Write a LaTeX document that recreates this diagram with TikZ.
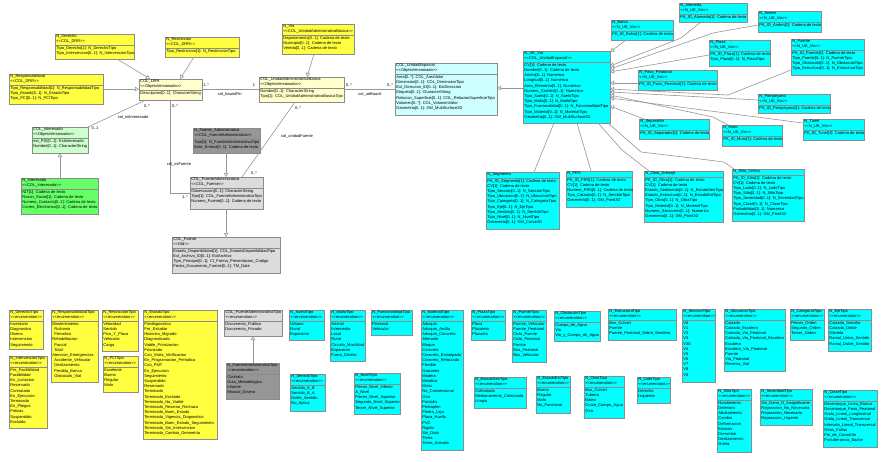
\documentclass[tikz,border=0pt]{standalone}
\usepackage{fontspec}
\setmainfont{Liberation Sans}
\usetikzlibrary{arrows.meta,calc}
\definecolor{cY}{RGB}{255,255,64}
\definecolor{cLY}{RGB}{255,255,204}
\definecolor{cC}{RGB}{0,255,255}
\definecolor{cLC}{RGB}{204,255,255}
\definecolor{cG}{RGB}{102,255,102}
\definecolor{cLG}{RGB}{204,255,204}
\definecolor{cDG}{RGB}{150,150,150}
\definecolor{cLGr}{RGB}{220,220,220}
\definecolor{cB}{RGB}{140,140,140}
\definecolor{cL}{RGB}{150,150,150}
\newcommand\st[1]{<\kern0pt<#1>\kern0pt>}
\tikzset{
  ubox/.style={draw=cB, line width=0.6pt, anchor=north west, inner sep=0pt, outer sep=0pt},
  utext/.style={anchor=north west, inner sep=0pt, align=left, font=\fontsize{4}{5.2}\selectfont},
  usep/.style={draw=cB, line width=0.4pt},
  conn/.style={draw=cL, line width=0.6pt},
  gen/.style={conn, -{Triangle[open,length=4pt,width=4.5pt]}},
  lbl/.style={inner sep=0pt, font=\fontsize{4}{5}\selectfont},
}
\newcommand\ubox[9]{%
  \node[ubox,fill=#2,minimum width=#5pt,minimum height=#6pt] (#1) at (#3,#4) {};
  \node[utext] (#1-h) at ([xshift=1.2pt,yshift=-0.6pt]#1.north west) {#8};
  \draw[usep] ([yshift={-#7*5.2pt-1pt}]#1.north west) -- ([yshift={-#7*5.2pt-1pt}]#1.north east);
  \node[utext] (#1-b) at ([xshift=1.2pt,yshift={-#7*5.2pt-1.8pt}]#1.north west) {#9};
}
\begin{document}
\catcode`\_=12
\begin{tikzpicture}[x=1pt,y=-1pt]
\fill[white] (0,0) rectangle (891,461);
\useasboundingbox (0,0) rectangle (891,461);

% ---- upper model ----
\ubox{NDerecho}{cY}{55}{34}{79}{25}{2}{N_Derecho\\\st{COL_DRR}}{Tipo_Derecho[1]: N_DerechoTipo\\Tipo_Intervencion[0..1]: N_IntervencionTipo}
\ubox{NRestriccion}{cY}{165}{37}{74}{20}{2}{N_Restriccion\\\st{COL_DRR}}{Tipo_Restriccion[1]: N_RestriccionTipo}
\ubox{NResponsabilidad}{cY}{9}{74}{94}{30}{2}{N_Responsabilidad\\\st{COL_DRR}}{Tipo_Responsabilidad[1]: N_ResponsabilidadTipo\\Tipo_Estado[0..1]: N_EstadoTipo\\Tipo_PCI[0..1]: N_PCITipo}
\ubox{COLDRR}{cLY}{139}{79}{63}{21}{2}{COL_DRR\\\st{ObjetoVersionado}}{Descripcion[0..1]: CharacterString}
\ubox{COLInteresado}{cLG}{32}{127}{56}{26}{2}{COL_Interesado\\\st{ObjetoVersionado}}{ext_PID[0..1]: ExtInteresado\\Nombre[0..1]: CharacterString}
\ubox{NInteresado}{cG}{21}{178}{77}{36}{2}{N_Interesado\\\st{COL_Interesado}}{NIT[1]: Cadena de texto\\Razon_Social[1]: Cadena de texto\\Numero_Contacto[0..1]: Cadena de texto\\Correo_Electronico[0..1]: Cadena de texto}
\ubox{NVia}{cY}{282}{24}{72}{30}{2}{N_Via\\\st{COL_UnidadAdministrativaBasica}}{Departamento[0..1]: Cadena de texto\\Municipio[0..1]: Cadena de texto\\Vereda[0..1]: Cadena de texto}
\ubox{COLUAB}{cLY}{259}{77}{85}{25}{2}{COL_UnidadAdministrativaBasica\\\st{ObjetoVersionado}}{Nombre[0..1]: CharacterString\\Tipo[1]: COL_UnidadAdministrativaBasicaTipo}
\ubox{NFuenteAdm}{cDG}{193}{128}{67}{25}{2}{N_Fuente_Administrativa\\\st{COL_FuenteAdministrativa}}{Tipo[1]: N_FuenteAdministrativaTipo\\Ente_Emisor[0..1]: Cadena de texto}
\ubox{COLFA}{cLGr}{190}{177}{73}{32}{2}{COL_FuenteAdministrativa\\\st{COL_Fuente}}{Observacion[0..1]: CharacterString\\Tipo[1]: COL_FuenteAdministrativaTipo\\Numero_Fuente[0..1]: Cadena de texto}
\ubox{COLFuente}{cLGr}{172}{237}{108}{36}{2}{COL_Fuente\\\st{Oid}}{Estado_Disponibilidad[1]: COL_EstadoDisponibilidadTipo\\Ext_Archivo_ID[0..1]: ExtArchivo\\Tipo_Principal[0..1]: CI_Forma_Presentacion_Codigo\\Fecha_Documento_Fuente[0..1]: TM_Date}
\ubox{COLUE}{cLC}{395}{63}{102}{52}{2}{COL_UnidadEspacial\\\st{ObjetoVersionado}}{Area[0..*]: COL_AreaValor\\Dimension[0..1]: COL_DimensionTipo\\Ext_Direccion_ID[0..1]: ExtDireccion\\Etiqueta[0..1]: CharacterString\\Relacion_Superficie[0..1]: COL_RelacionSuperficieTipo\\Volumen[0..*]: COL_VolumenValor\\Geometria[0..1]: GM_MultiSurface3D}
\ubox{NUEVia}{cC}{523}{51}{87}{72}{2}{N_UE_Via\\\st{COL_UnidadEspacial}}{CV[1]: Cadena de texto\\Nombre[0..1]: Cadena de texto\\Ancho[0..1]: Numerico\\Longitud[0..1]: Numerico\\Area_Elemento[0..1]: Numerico\\Numero_Carriles[0..1]: Numerico\\Tipo_Suelo[0..1]: N_SueloTipo\\Tipo_Malla[0..1]: N_MallaTipo\\Tipo_Funcionalidad[0..1]: N_FuncionalidadTipo\\Tipo_Material[0..1]: N_MaterialTipo\\Geometria[0..1]: GM_MultiSurface3D}
\ubox{NBahia}{cC}{611}{20}{62}{20}{2}{N_Bahia\\\st{N_UE_Via}}{PK_ID_Bahia[1]: Cadena de texto}
\ubox{NAlameda}{cC}{679}{3}{68}{19}{2}{N_Alameda\\\st{N_UE_Via}}{PK_ID_Alameda[1]: Cadena de texto}
\ubox{NAnden}{cC}{758}{11}{63}{21}{2}{N_Anden\\\st{N_UE_Via}}{PK_ID_Anden[1]: Cadena de texto}
\ubox{NPlaza}{cC}{709}{40}{61}{26}{2}{N_Plaza\\\st{N_UE_Via}}{PK_ID_Plaza[1]: Cadena de texto\\Tipo_Plaza[0..1]: N_PlazaTipo}
\ubox{NPuente}{cC}{791}{39}{73}{36}{2}{N_Puente\\\st{N_UE_Via}}{PK_ID_Puente[1]: Cadena de texto\\Tipo_Puente[0..1]: N_PuenteTipo\\Tipo_Obstaculo[0..1]: N_ObstaculoTipo\\Tipo_Estructura[0..1]: N_EstructuraTipo}
\ubox{NPaso}{cC}{638}{70}{79}{20}{2}{N_Paso_Peatonal\\\st{N_UE_Via}}{PK_ID_Paso_Peatonal[1]: Cadena de texto}
\ubox{NPompeyano}{cC}{758}{94}{72}{19}{2}{N_Pompeyano\\\st{N_UE_Via}}{PK_ID_Pompeyano[1]: Cadena de texto}
\ubox{NSeparador}{cC}{639}{119}{70}{20}{2}{N_Separador\\\st{N_UE_Via}}{PK_ID_Separador[1]: Cadena de texto}
\ubox{NMuro}{cC}{722}{125}{60}{21}{2}{N_Muro\\\st{N_UE_Via}}{PK_ID_Muro[1]: Cadena de texto}
\ubox{NTunel}{cC}{803}{119}{61}{21}{2}{N_Tunel\\\st{N_UE_Via}}{PK_ID_Tunel[1]: Cadena de texto}
\ubox{NSegmento}{cC}{486}{172}{73}{57}{1}{N_Segmento}{PK_ID_Segmento[1]: Cadena de texto\\CV[1]: Cadena de texto\\Tipo_Seccion[0..1]: N_SeccionTipo\\Tipo_Ubicacion[0..1]: N_UbicacionTipo\\Tipo_Categoria[0..1]: N_CategoriaTipo\\Tipo_Eje[0..1]: N_EjeTipo\\Tipo_Sentido[0..1]: N_SentidoTipo\\Tipo_Nivel[0..1]: N_NivelTipo\\Geometria[0..1]: GM_Curve3D}
\ubox{NPRS}{cC}{566}{171}{66}{36}{1}{N_PRS}{PK_ID_PRS[1]: Cadena de texto\\CV[1]: Cadena de texto\\Numero_PRS[0..1]: Cadena de texto\\Tipo_Calzada[0..1]: N_SentidoTipo\\Geometria[0..1]: GM_Point3D}
\ubox{NObra}{cC}{644}{171}{79}{51}{1}{N_Obra_Drenaje}{PK_ID_Obra[1]: Cadena de texto\\CV[1]: Cadena de texto\\Estado_Sedimento[0..1]: N_EstadoSenTipo\\Estado_Estructura[0..1]: N_EstadoEstTipo\\Tipo_Obra[0..1]: N_ObraTipo\\Tipo_Material[0..1]: N_MaterialTipo\\Numero_Secciones[0..1]: Numerico\\Geometria[0..1]: GM_Point3D}
\ubox{NSitio}{cC}{732}{169}{72}{52}{1}{N_Sitio_Critico}{PK_ID_Sitio[1]: Cadena de texto\\CV[1]: Cadena de texto\\Tipo_Lado[0..1]: N_LadoTipo\\Tipo_Sitio[0..1]: N_SitioTipo\\Tipo_Severidad[0..1]: N_SeveridadTipo\\Tipo_Clase[0..1]: N_ClaseTipo\\Probabilidad[0..1]: Numerico\\Geometria[0..1]: GM_Point3D}

% ---- enumerations ----
\ubox{EDerecho}{cY}{9}{310}{34}{39}{2}{N_DerechoTipo\\\st{enumeration}}{Inventario\\Diagnostico\\Diseno\\Intervencion\\Seguimiento}
\ubox{EIntervencion}{cY}{9}{356}{38}{72}{2}{N_IntervencionTipo\\\st{enumeration}}{Pre_Factibilidad\\Factibilidad\\En_Licitacion\\Reservado\\Contratado\\En_Ejecucion\\Terminado\\En_Pliegos\\Polizas\\Suspendido\\Excluido}
\ubox{EResponsabilidad}{cY}{51}{310}{47}{72}{2}{N_ResponsabilidadTipo\\\st{enumeration}}{Mantenimiento\\\hspace*{2pt}Rutinario\\\hspace*{2pt}Periodico\\Rehabilitacion\\\hspace*{2pt}Parcial\\\hspace*{2pt}Total\\Atencion_Emergencias\\\hspace*{2pt}Accidente_Vehicular\\\hspace*{2pt}Deslizamiento\\\hspace*{2pt}Perdida_Banca\\\hspace*{2pt}Obstaculo_Vial}
\ubox{ERestriccion}{cY}{102}{310}{36}{41}{2}{N_RestriccionTipo\\\st{enumeration}}{Velocidad\\Sentido\\Pico_Y_Placa\\Vehicular\\Carga}
\ubox{EPCI}{cY}{103}{356}{35}{36}{2}{N_PCITipo\\\st{enumeration}}{Excelente\\Bueno\\Regular\\Malo}
\ubox{EEstado}{cY}{143}{310}{74}{129}{2}{N_EstadoTipo\\\st{enumeration}}{Prediagnostico\\Por_Estudiar\\Historico_Migrado\\Diagnosticado\\Viable_Priorizacion\\Priorizado\\Con_Visita_Verificacion\\En_Programacion_Periodica\\Con_PMT\\En_Ejecucion\\Seguimiento\\Suspendido\\Reservado\\Terminado\\Terminado_Excluido\\Terminado_No_Viable\\Terminado_Resama_Rechaza\\Terminado_Buen_Estado\\Terminado_Vigencia_Diagnostico\\Terminado_Buen_Estado_Seguimiento\\Terminado_Sin_Intervencion\\Terminado_Cambio_Geometria}
\ubox{COLFATipo}{cLGr}{224}{310}{58}{26}{2}{COL_FuenteAdministrativaTipo\\\st{enumeration}}{Documento_Publico\\Documento_Privado}
\ubox{NFATipo}{cDG}{226}{363}{53}{36}{2}{N_FuenteAdministrativaTipo\\\st{enumeration}}{Contrato\\Guia_Metodologica\\Informe\\Manual_Diseno}
\ubox{ESuelo}{cC}{289}{310}{35}{30}{2}{N_SueloTipo\\\st{enumeration}}{Urbano\\Rural\\Expansion}
\ubox{EMalla}{cC}{330}{310}{35}{51}{2}{N_MallaTipo\\\st{enumeration}}{Arterial\\Intermedia\\Local\\Rural\\Circuito_Movilidad\\Expansion\\Fuera_Distrito}
\ubox{EFuncionalidad}{cC}{371}{310}{41}{25}{2}{N_FuncionalidadTipo\\\st{enumeration}}{Peatonal\\Vehicular}
\ubox{ESentido}{cC}{290}{374}{35}{37}{2}{N_SentidoTipo\\\st{enumeration}}{Sentido_A_B\\Sentido_B_A\\Doble_Sentido\\No_Aplica}
\ubox{ENivel}{cC}{354}{373}{46}{41}{2}{N_NivelTipo\\\st{enumeration}}{Primer_Nivel_Inferior\\A_Nivel\\Primer_Nivel_Superior\\Segundo_Nivel_Superior\\Tercer_Nivel_Superior}
\ubox{EMaterial}{cC}{421}{310}{42}{140}{2}{N_MaterialTipo\\\st{enumeration}}{Adoquin\\Adoquin_Arcilla\\Adoquin_Concreto\\Afirmado\\Bloque\\Concreto\\Concreto_Estampado\\Concreto_Reforzado\\Flexible\\Gaviones\\Madera\\Metalico\\Mixto\\No_Convencional\\Otro\\Pantalla\\Pedraplen\\Piedra_Laja\\Placa_Huella\\PVC\\Rigido\\Sin_Dato\\Tierra\\Tierra_Armada}
\ubox{EPlaza}{cC}{471}{310}{34}{30}{2}{N_PlazaTipo\\\st{enumeration}}{Plaza\\Plazoleta\\Plazuela}
\ubox{EPuente}{cC}{512}{310}{34}{52}{2}{N_PuenteTipo\\\st{enumeration}}{Puente_Vehicular\\Puente_Peatonal\\Ciclo_Puente\\Ciclo_Peatonal\\Ponton\\Box_Peatonal\\Box_Vehicular}
\ubox{EObstaculo}{cC}{554}{311}{46}{30}{2}{N_ObstaculoTipo\\\st{enumeration}}{Cuerpo_de_Agua\\Via\\Via_y_Cuerpo_de_Agua}
\ubox{EEstructura}{cC}{608}{309}{68}{31}{2}{N_EstructuraTipo\\\st{enumeration}}{Box_Culvert\\Puente\\Puente_Peatonal_Sobre_Sendero}
\ubox{EEstadoSen}{cC}{474}{377}{52}{31}{2}{N_EstadoSenTipo\\\st{enumeration}}{Colmatada\\Medianamente_Colmatada\\Limpia}
\ubox{EEstadoEst}{cC}{536}{376}{34}{37}{2}{N_EstadoEstTipo\\\st{enumeration}}{Bueno\\Regular\\Malo\\No_Funcional}
\ubox{EObra}{cC}{584}{376}{40}{42}{2}{N_ObraTipo\\\st{enumeration}}{Box_Culvert\\Tuberia\\Batea\\Cruce_Cuerpo_Agua\\Otro}
\ubox{ELado}{cC}{637}{377}{33}{26}{2}{N_LadoTipo\\\st{enumeration}}{Derecho\\Izquierdo}
\ubox{ESeccion}{cC}{682}{309}{33}{73}{2}{N_SeccionTipo\\\st{enumeration}}{V0\\V1\\V2\\V3\\V3E\\V4\\V5\\V6\\V7\\V8\\V9}
\ubox{EUbicacion}{cC}{724}{309}{61}{62}{2}{N_UbicacionTipo\\\st{enumeration}}{Calzada\\Calzada_Escalera\\Calzada_Via_Peatonal\\Calzada_Via_Peatonal_Escalera\\Escalera\\Escalera_Via_Peatonal\\Puente\\Via_Peatonal\\Reserva_Vial}
\ubox{ECategoria}{cC}{790}{309}{34}{31}{2}{N_CategoriaTipo\\\st{enumeration}}{Primer_Orden\\Segundo_Orden\\Tercer_Orden}
\ubox{EEje}{cC}{828}{309}{43}{42}{2}{N_EjeTipo\\\st{enumeration}}{Calzada_Sencilla\\Calzada_Doble\\Glorieta\\Ramal_Unico_Sentido\\Ramal_Doble_Sentido}
\ubox{ESitio}{cC}{717}{389}{34}{63}{2}{N_SitioTipo\\\st{enumeration}}{Hundimiento\\Deterioro\\Abultamiento\\Cambio\\Deformacion\\Erosion\\Derrumbe\\Deslizamiento\\Grieta}
\ubox{ESeveridad}{cC}{760}{389}{52}{36}{2}{N_SeveridadTipo\\\st{enumeration}}{Sin_Dano_O_Insignificante\\Reparacion_No_Necesaria\\Reparacion_Necesaria\\Reparacion_Urgente}
\ubox{EClase}{cC}{823}{390}{54}{57}{2}{N_ClaseTipo\\\st{enumeration}}{Desentoque_Linea_Blanca\\Desentoque_Paso_Peatonal\\Onda_Lineal_Longitudinal\\Onda_Lineal_Transversal\\Intervalo_Lineal_Transversal\\Otros_Fallas\\Pie_de_Cocodrilo\\Protuberancia_Bache}

% ---- connectors ----
\draw[gen] (NDerecho.south -| 117,0) -- (COLDRR.north -| 150,0);
\draw[gen] (NRestriccion.south -| 194,0) -- (COLDRR.north -| 180,0);
\draw[gen] (NResponsabilidad.east |- 0,89) -- (COLDRR.west |- 0,89);
\draw[conn] (COLDRR.south -| 146,0) -- (COLInteresado.north east);
\draw[conn] (COLDRR.east |- 0,89) -- (COLUAB.west |- 0,89);
\draw[conn] (COLDRR.south -| 170,0) |- (COLFA.west |- 0,193);
\draw[gen] (NVia.south -| 314,0) -- (COLUAB.north -| 307,0);
\draw[conn] (COLUAB.east |- 0,89) -- (COLUE.west |- 0,89);
\draw[conn] (COLUAB.south -| 295,0) -- (COLFA.north -| 242,0);
\draw[gen] (NFuenteAdm.south -| 226,0) -- (COLFA.north -| 226,0);
\draw[gen] (COLFA.south -| 226,0) -- (COLFuente.north -| 226,0);
\draw[gen] (NInteresado.north -| 60,0) -- (COLInteresado.south -| 60,0);
\draw[gen] (NUEVia.west |- 0,88) -- (COLUE.east |- 0,88);
\draw[gen] (NFATipo.north -| 253,0) -- (COLFATipo.south -| 253,0);

\draw[gen] (NBahia.south -| 626,0) -- (NUEVia.east |- 0,52);
\draw[gen] (NAlameda.south -| 701,0) -- (681,38) -- (NUEVia.east |- 0,66);
\draw[gen] (NAnden.west |- 0,25) -- (713,33) -- (NUEVia.east |- 0,69);
\draw[gen] (NPlaza.west |- 0,55) -- (NUEVia.east |- 0,72);
\draw[gen] (NPaso.west |- 0,83) -- (NUEVia.east |- 0,83);
\draw[gen] (NPuente.west |- 0,70) -- (728,95) -- (NUEVia.east |- 0,89);
\draw[gen] (NPompeyano.west |- 0,100) -- (NUEVia.east |- 0,92);
\draw[gen] (NMuro.north -| 728,0) -- (713,117) -- (NUEVia.east |- 0,95);
\draw[gen] (NTunel.west |- 0,123) -- (NUEVia.east |- 0,98);
\draw[gen] (NSeparador.north -| 644,0) -- (NUEVia.east |- 0,106);

\draw[conn] (NUEVia.south -| 554,0) -- (NSegmento.north -| 534,0);
\draw[conn] (NUEVia.south -| 577,0) -- (NPRS.north -| 591,0);
\draw[conn] (NUEVia.south -| 598,0) -- (622,150) -- (NObra.north -| 649,0);
\draw[conn] (NUEVia.south -| 608,0) -- (641,152) -- (700,159) -- (724,162) -- (NSitio.north -| 734,0);

% ---- labels ----
\node[lbl] (m1) at (206,85) {1..*};
\node[lbl] (m2) at (254,85) {1};
\node[lbl] (r1) at (230,94) {col_baunitRrr};
\node[lbl] (m3) at (147,106) {0..*};
\node[lbl] (m4) at (175,106) {0..*};
\node[lbl] (r2) at (133,117) {col_miInteresado};
\node[lbl] (m5) at (95,128) {0..1};
\node[lbl] (r3) at (179,164) {col_miFuente};
\node[lbl] (m6) at (185,197) {1..*};
\node[lbl] (m7) at (349,85) {0..*};
\node[lbl] (m8) at (390,85) {0..*};
\node[lbl] (r4) at (370,94) {col_ueBaunit};
\node[lbl] (m9) at (298,108) {0..*};
\node[lbl] (r5) at (297,136) {col_unidadFuente};
\node[lbl] (m10) at (254,173) {0..*};
\end{tikzpicture}
\end{document}
